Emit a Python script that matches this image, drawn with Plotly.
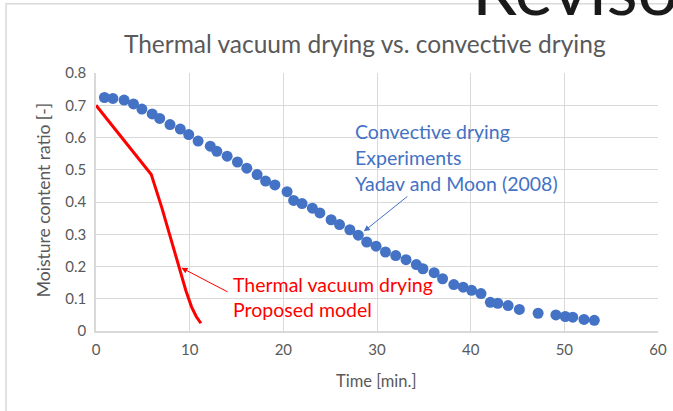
import plotly.graph_objects as go

FONT = "Lato, 'Open Sans', sans-serif"
GRAY_TEXT = "#595959"
GRID = "#D9D9D9"
BLUE = "#4472C4"
RED = "#FF0000"

# convective drying experiments (Yadav and Moon 2008)
conv_time = [0.9, 1.8, 3.0, 4.0, 4.9, 6.0, 6.8, 7.9, 9.0, 9.9, 10.9, 12.2, 12.9, 14.0,
             15.1, 16.1, 17.2, 18.1, 19.1, 20.4, 21.1, 22.0, 23.1, 23.9, 25.1, 26.0,
             27.1, 28.0, 28.9, 29.9, 30.9, 32.0, 33.1, 34.2, 34.9, 36.1, 37.0, 38.2,
             39.2, 40.1, 41.1, 42.1, 42.9, 44.0, 45.2, 47.2, 49.1, 50.1, 50.9, 52.1, 53.2]
conv_mc = [0.724, 0.721, 0.716, 0.704, 0.688, 0.673, 0.659, 0.640, 0.626, 0.609, 0.589,
           0.573, 0.557, 0.542, 0.524, 0.505, 0.485, 0.465, 0.453, 0.432, 0.405, 0.395,
           0.381, 0.366, 0.345, 0.330, 0.314, 0.297, 0.276, 0.263, 0.245, 0.234, 0.221,
           0.206, 0.193, 0.181, 0.162, 0.144, 0.136, 0.126, 0.116, 0.089, 0.086, 0.079,
           0.067, 0.055, 0.050, 0.045, 0.043, 0.036, 0.033]

# thermal vacuum drying, proposed model
model_time = [0.0, 5.9, 7.0, 8.0, 8.9, 9.6, 10.2, 10.7, 11.2]
model_mc = [0.70, 0.485, 0.385, 0.285, 0.195, 0.125, 0.075, 0.045, 0.024]

blue_lines = ["Convective drying", "Experiments", "Yadav and Moon (2008)"]
blue_line_y = [0.620, 0.539, 0.458]
red_lines = ["Thermal vacuum drying", "Proposed model"]
red_line_y = [0.144, 0.067]

fig = go.Figure()
fig.add_trace(go.Scatter(
    x=model_time, y=model_mc, mode="lines",
    line={"color": RED, "width": 3}, name="Proposed model",
))
fig.add_trace(go.Scatter(
    x=conv_time, y=conv_mc, mode="markers",
    marker={"color": BLUE, "size": 11}, name="Experiments",
))

for text, y in zip(blue_lines, blue_line_y):
    fig.add_annotation(x=27.45, y=y, text=text, showarrow=False, xanchor="left",
                       yanchor="middle", font={"color": BLUE, "size": 19.5, "family": FONT})
for text, y in zip(red_lines, red_line_y):
    fig.add_annotation(x=14.45, y=y, text=text, showarrow=False, xanchor="left",
                       yanchor="middle", font={"color": RED, "size": 19.5, "family": FONT})

# arrows
fig.add_annotation(x=28.6, y=0.309, ax=33.4, ay=0.421, axref="x", ayref="y", text="",
                   showarrow=True, arrowhead=2, arrowsize=1.2, arrowwidth=1, arrowcolor=BLUE)
fig.add_annotation(x=9.12, y=0.196, ax=14.2, ay=0.119, axref="x", ayref="y", text="",
                   showarrow=True, arrowhead=2, arrowsize=1.2, arrowwidth=1, arrowcolor=RED)

# axis titles
fig.add_annotation(xref="paper", yref="paper", x=0.498, y=-0.192, text="Time [min.]",
                   showarrow=False, xanchor="center", yanchor="middle",
                   font={"size": 16.5, "color": GRAY_TEXT, "family": FONT})
fig.add_annotation(xref="paper", yref="paper", x=-0.0943, y=0.507,
                   text="Moisture content ratio [-]", textangle=-90,
                   showarrow=False, xanchor="center", yanchor="middle",
                   font={"size": 17.5, "color": GRAY_TEXT, "family": FONT})

# slide text cut at the top of the screenshot
fig.add_annotation(xref="paper", yref="paper", x=0.665, y=1.158, text="Reviso",
                   showarrow=False, xanchor="left", yanchor="bottom",
                   font={"color": "#1a1a1a", "size": 72, "family": FONT})

# chart frame
fig.add_shape(type="rect", xref="paper", yref="paper", x0=-0.160, x1=1.3, y0=-0.5, y1=1.268,
              line={"color": GRID, "width": 1.5}, layer="below")

fig.update_layout(
    width=673, height=411,
    paper_bgcolor="white", plot_bgcolor="white",
    margin={"l": 96, "r": 15, "t": 73, "b": 80},
    showlegend=False,
    font={"family": FONT, "color": GRAY_TEXT},
    title={"text": "Thermal vacuum drying vs. convective drying", "x": 0.542, "xanchor": "center",
           "y": 0.893, "yanchor": "middle", "font": {"size": 24.5, "color": GRAY_TEXT}},
)
fig.update_xaxes(
    range=[0, 60], dtick=10, showgrid=True, gridcolor=GRID, gridwidth=1,
    showline=True, linecolor=GRID, linewidth=1.5, zeroline=False, automargin=False,
    ticks="", tickfont={"size": 15, "color": GRAY_TEXT}, ticklabelstandoff=4,
)
fig.update_yaxes(
    range=[0, 0.8], dtick=0.1, showgrid=True, gridcolor=GRID, gridwidth=1,
    showline=True, linecolor=GRID, linewidth=1.5, zeroline=False, automargin=False,
    ticks="", tickfont={"size": 15, "color": GRAY_TEXT}, ticklabelstandoff=5,
)

# the page body has a default 8px margin; drop it so the figure sits at the window corner
fig.write_html("out.html", config={"displayModeBar": False},
               post_script="document.body.style.margin='0';")
